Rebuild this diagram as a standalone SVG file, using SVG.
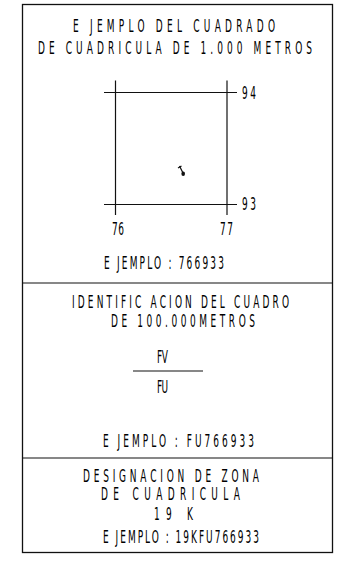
<svg xmlns="http://www.w3.org/2000/svg" width="342" height="568" viewBox="0 0 342 568">
<style>
text{font-family:"DejaVu Sans","Liberation Sans",sans-serif;font-size:15px;fill:#000;}
.ln{stroke:#111;stroke-width:1.2;fill:none;}
.bx{stroke:#111;stroke-width:1.3;fill:#fff;}
</style>
<rect width="342" height="568" fill="#fff"/>
<g id="frame">
<rect class="bx" x="22.5" y="4.5" width="310" height="548"/>
<line class="ln" x1="22.5" y1="283" x2="332.5" y2="283"/>
<line class="ln" x1="22.5" y1="458" x2="332.5" y2="458"/>
</g>
<g id="section1">
<g transform="translate(73,32) scale(0.6,1.15)"><text textLength="336.7" lengthAdjust="spacing">E JEMPLO DEL CUADRADO</text></g>
<g transform="translate(38,54) scale(0.6,1.15)"><text textLength="456.7" lengthAdjust="spacing">DE CUADRICULA DE 1.000 METROS</text></g>
<g id="grid">
<line class="ln" x1="104" y1="92.5" x2="237" y2="92.5"/>
<line class="ln" x1="104" y1="204.5" x2="237" y2="204.5"/>
<line class="ln" x1="115.5" y1="80.5" x2="115.5" y2="215"/>
<line class="ln" x1="227" y1="80.5" x2="227" y2="215"/>
<g transform="translate(242,99) scale(0.6,1.15)"><text textLength="23.3" lengthAdjust="spacing">94</text></g>
<g transform="translate(242,210) scale(0.6,1.15)"><text textLength="23.3" lengthAdjust="spacing">93</text></g>
<g transform="translate(112,235) scale(0.6,1.15)"><text textLength="20" lengthAdjust="spacing">76</text></g>
<g transform="translate(220,235) scale(0.6,1.15)"><text textLength="21.7" lengthAdjust="spacing">77</text></g>
</g>
<g id="point">
<line class="ln" x1="179.5" y1="166" x2="183" y2="173" stroke-width="1"/>
<line class="ln" x1="178" y1="168" x2="181.5" y2="166" stroke-width="1"/>
<ellipse cx="183.2" cy="173.8" rx="1.8" ry="2.2" fill="#111"/>
</g>
<g transform="translate(104,269) scale(0.6,1.15)"><text textLength="200" lengthAdjust="spacing">E JEMPLO : 766933</text></g>
</g>
<g id="section2">
<g transform="translate(72,308) scale(0.6,1.15)"><text textLength="361.7" lengthAdjust="spacing">IDENTIFIC ACION DEL CUADRO</text></g>
<g transform="translate(111,327) scale(0.6,1.15)"><text textLength="240" lengthAdjust="spacing">DE 100.000METROS</text></g>
<g transform="translate(157,363) scale(0.6,1.15)"><text textLength="18.3" lengthAdjust="spacing">FV</text></g>
<line class="ln" x1="133" y1="371" x2="203" y2="371"/>
<g transform="translate(157,393) scale(0.6,1.15)"><text textLength="18.3" lengthAdjust="spacing">FU</text></g>
<g transform="translate(103,447) scale(0.6,1.15)"><text textLength="251.7" lengthAdjust="spacing">E JEMPLO :   FU766933</text></g>
</g>
<g id="section3">
<g transform="translate(83,481.5) scale(0.6,1.15)"><text textLength="293.3" lengthAdjust="spacing">DESIGNACION DE ZONA</text></g>
<g transform="translate(101,500) scale(0.6,1.15)"><text textLength="231.7" lengthAdjust="spacing">DE CUADRICULA</text></g>
<g transform="translate(154,520) scale(0.6,1.15)"><text textLength="65" lengthAdjust="spacing">19  K</text></g>
<g transform="translate(103,543) scale(0.6,1.15)"><text textLength="260" lengthAdjust="spacing">E JEMPLO : 19KFU766933</text></g>
</g>
</svg>
